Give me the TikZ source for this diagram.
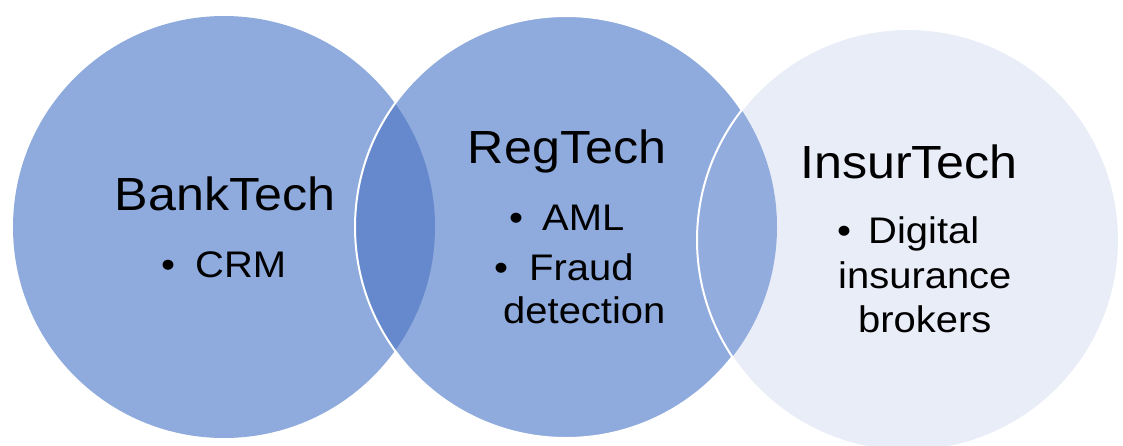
\documentclass[tikz,border=0pt]{standalone}
\usepackage{fontspec}
\setmainfont{Liberation Sans}[FakeStretch=1.08]
\definecolor{circblue}{RGB}{143,170,220}
\definecolor{overlapLM}{RGB}{101,137,204}
\definecolor{circlight}{RGB}{233,237,248}
\definecolor{overlapMR}{RGB}{146,172,221}
\begin{document}
\begin{tikzpicture}[x=1pt,y=-1pt,
  head/.style={font=\fontsize{46.5}{50}\selectfont, inner sep=0pt, anchor=base, text=black},
  item/.style={font=\fontsize{37}{42}\selectfont, inner sep=0pt, anchor=base west, text=black},
  bul/.style={font=\fontsize{37}{42}\selectfont, inner sep=0pt, anchor=base, text=black},
  rim/.style={draw=white, line width=2pt}]
\useasboundingbox (0,0) rectangle (1123,445);
\clip (0,0) rectangle (1123,445);
\coordinate (cL) at (224,227);
\coordinate (cM) at (566,227);
\coordinate (cR) at (908,240);
\def\rad{211}
% left and middle circles
\fill[circblue] (cL) circle[radius=\rad];
\fill[circblue] (cM) circle[radius=\rad];
\begin{scope}
  \clip (cL) circle[radius=\rad];
  \fill[overlapLM] (cM) circle[radius=\rad];
\end{scope}
\draw[rim] (cM) circle[radius=\rad];
% right circle
\fill[circlight] (cR) circle[radius=\rad];
\begin{scope}
  \clip (cM) circle[radius=\rad];
  \fill[overlapMR] (cR) circle[radius=\rad];
\end{scope}
\draw[rim] (cR) circle[radius=\rad];
% texts
\node[head] (bank) at (225,210) {BankTech};
\node[bul] (b1) at (168,277) {•};
\node[item] (crm) at (195,277) {CRM};

\node[head] (reg) at (567,163) {RegTech};
\node[bul] (b2) at (516,230) {•};
\node[item] (aml) at (542,230) {AML};
\node[bul] (b3) at (501,280) {•};
\node[item] (fraud) at (529,280) {Fraud};
\node[item] (detect) at (503,323) {detection};

\node[head] (insur) at (909,178) {InsurTech};
\node[bul] (b4) at (844,243) {•};
\node[item] (digital) at (868,243) {Digital};
\node[item] (insurance) at (838,288) {insurance};
\node[item] (brokers) at (858,332) {brokers};
\end{tikzpicture}
\end{document}
